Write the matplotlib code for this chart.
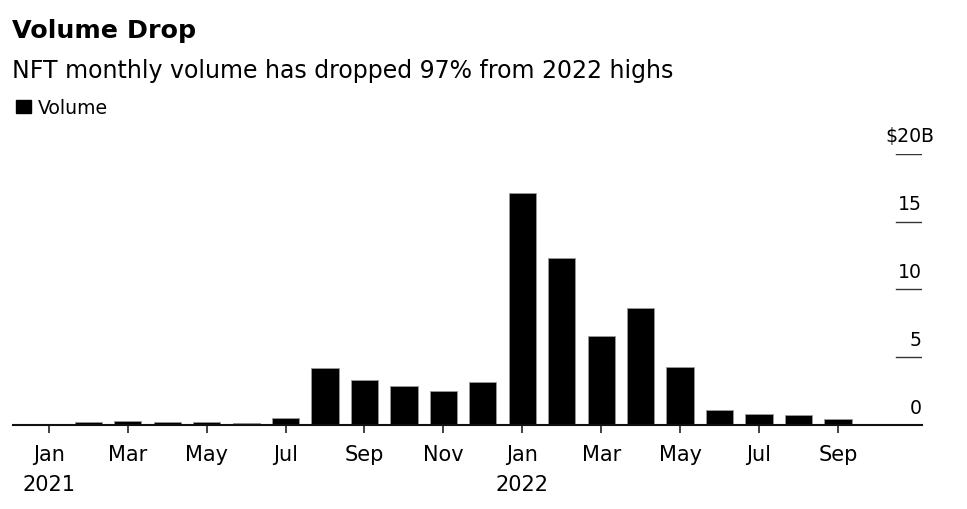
import matplotlib.pyplot as plt

plt.rcParams['font.family'] = ['DejaVu Sans']

# 月度数据 (单位: 十亿美元)
months = ['Jan 2021', 'Feb 2021', 'Mar 2021', 'Apr 2021', 'May 2021', 'Jun 2021',
          'Jul 2021', 'Aug 2021', 'Sep 2021', 'Oct 2021', 'Nov 2021', 'Dec 2021',
          'Jan 2022', 'Feb 2022', 'Mar 2022', 'Apr 2022', 'May 2022', 'Jun 2022',
          'Jul 2022', 'Aug 2022', 'Sep 2022']
volume = [0.05, 0.2, 0.3, 0.2, 0.2, 0.15, 0.5, 4.2, 3.3, 2.85, 2.5, 3.17,
          17.15, 12.35, 6.55, 8.6, 4.25, 1.1, 0.8, 0.75, 0.45]
tick_labels = ['Jan\n2021', 'Mar', 'May', 'Jul', 'Sep', 'Nov',
               'Jan\n2022', 'Mar', 'May', 'Jul', 'Sep']
y_ticks = [0, 5, 10, 15, 20]
y_labels = ['0', '5', '10', '15', '$20']

fig = plt.figure(figsize=(9.67, 5.10), dpi=100)
ax = fig.add_axes([0.0134, 0.1647, 0.94, 0.5314])

x = list(range(len(months)))
ax.bar(x, volume, width=0.69, color='black', edgecolor='#9a9a9a', linewidth=0.6, zorder=3)

ax.set_xlim(-0.91, 22.13)
ax.set_ylim(0, 20)

# 去掉边框，只留底部基线
for s in ['top', 'right', 'left']:
    ax.spines[s].set_visible(False)
ax.spines['bottom'].set_linewidth(1.5)
ax.spines['bottom'].set_color('#111111')
ax.spines['bottom'].set_zorder(4)

ax.set_xticks(x[::2])
ax.set_xticklabels(tick_labels, fontsize=15, linespacing=1.6)
ax.tick_params(axis='x', length=6, width=1.3, color='#333333', pad=8, labelcolor='black')
ax.set_yticks([])

# 右侧短网格线和标签
for v, lab in zip(y_ticks, y_labels):
    if v > 0:
        ax.axhline(v, xmin=0.9714, xmax=1.0, color='#333333', linewidth=1.0)
    ax.annotate(lab, xy=(1.0, v), xycoords=('axes fraction', 'data'),
                xytext=(0, 9), textcoords='offset points',
                ha='right', va='baseline', fontsize=13.6, annotation_clip=False)
# 单位 "B" 挂在右侧
ax.annotate('B', xy=(1.0, y_ticks[-1]), xycoords=('axes fraction', 'data'),
            xytext=(-1, 9), textcoords='offset points',
            ha='left', va='baseline', fontsize=13.6, annotation_clip=False)

# 标题、副标题、图例
fig.text(0.0124, 0.925, 'Volume Drop', fontsize=18.3, fontweight='bold', va='baseline')
fig.text(0.0124, 0.8465, 'NFT monthly volume has dropped 97% from 2022 highs', fontsize=17, va='baseline')
fig.patches.append(plt.Rectangle((16 / 967, 1 - 114 / 510), 15 / 967, 13 / 510,
                                 transform=fig.transFigure, color='black', figure=fig))
fig.text(38 / 967, 0.7765, 'Volume', fontsize=13.6, va='baseline')

plt.savefig('out.png', dpi=100)
plt.close()
